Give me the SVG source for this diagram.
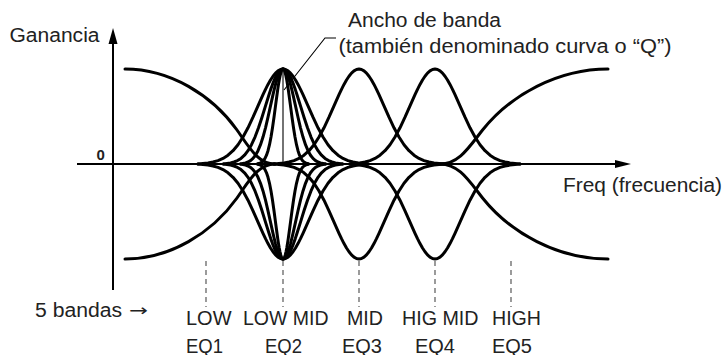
<svg xmlns="http://www.w3.org/2000/svg" xmlns:xlink="http://www.w3.org/1999/xlink" width="723" height="355" viewBox="0 0 723 355">
<style>
text{font-family:"Liberation Sans",Arial,Helvetica,sans-serif;fill:#222;font-size:19.5px}
.lbl{font-size:20.5px}
.curve{fill:none;stroke:#000;stroke-width:3;stroke-linejoin:round;stroke-linecap:round}
.axis{fill:none;stroke:#000;stroke-width:2}
.thin{fill:none;stroke:#000;stroke-width:1.1}
.dash{fill:none;stroke:#666;stroke-width:1.3;stroke-dasharray:5 4}
</style>
<defs>
<path id="bell" class="curve" vector-effect="non-scaling-stroke" d="M-85,0 L-80,-0.62 L-75,-1.13 L-70,-2 L-65,-3.41 L-60,-5.58 L-55,-8.78 L-50,-13.3 L-45,-19.3 L-40,-26.95 L-35,-36.2 L-30,-46.8 L-25,-58.1 L-20,-69.3 L-17.5,-74.65 L-15,-79.6 L-12.5,-84 L-10,-87.8 L-7.5,-90.88 L-5,-93.15 L-2.5,-94.53 L0,-95 L2.5,-94.53 L5,-93.15 L7.5,-90.88 L10,-87.8 L12.5,-84 L15,-79.6 L17.5,-74.65 L20,-69.3 L25,-58.1 L30,-46.8 L35,-36.2 L40,-26.95 L45,-19.3 L50,-13.3 L55,-8.78 L60,-5.58 L65,-3.41 L70,-2 L75,-1.13 L80,-0.62 L85,0"/>
<path id="shelf" class="curve" vector-effect="non-scaling-stroke" d="M0,0 C45,0 87,26 112,61 C124,78 133,95 150,95"/>
</defs>
<g id="axes">
<line class="axis" x1="113" y1="42" x2="113" y2="290"/>
<polygon points="113,28 108.5,44 117.5,44" fill="#000"/>
<line class="axis" x1="77" y1="164" x2="617" y2="164"/>
<polygon points="631,164 615,160 615,168" fill="#000"/>
</g>
<g id="eq1-low">
<use xlink:href="#shelf" transform="translate(125,69)"/>
<use xlink:href="#shelf" transform="translate(125,259) scale(1,-1)"/>
</g>
<g id="eq2-lowmid">
<use xlink:href="#bell" transform="translate(283,164) scale(1,1)"/>
<use xlink:href="#bell" transform="translate(283,164) scale(0.7,1)"/>
<use xlink:href="#bell" transform="translate(283,164) scale(0.5,1)"/>
<use xlink:href="#bell" transform="translate(283,164) scale(0.3,1)"/>
<use xlink:href="#bell" transform="translate(283,164) scale(1,-1)"/>
<use xlink:href="#bell" transform="translate(283,164) scale(0.7,-1)"/>
<use xlink:href="#bell" transform="translate(283,164) scale(0.5,-1)"/>
<use xlink:href="#bell" transform="translate(283,164) scale(0.3,-1)"/>
<line class="thin" x1="283" y1="69" x2="283" y2="164"/>
</g>
<g id="eq3-mid">
<use xlink:href="#bell" transform="translate(359,164)"/>
<use xlink:href="#bell" transform="translate(359,164) scale(1,-1)"/>
</g>
<g id="eq4-higmid">
<use xlink:href="#bell" transform="translate(435,164)"/>
<use xlink:href="#bell" transform="translate(435,164) scale(1,-1)"/>
</g>
<g id="eq5-high">
<use xlink:href="#shelf" transform="translate(608,69) scale(-1.12,1)"/>
<use xlink:href="#shelf" transform="translate(608,259) scale(-1.12,-1)"/>
</g>
<g id="connectors">
<polyline class="thin" points="284,90 325,38 336,38"/>
<line class="dash" x1="206" y1="261" x2="206" y2="307"/>
<line class="dash" x1="283" y1="261" x2="283" y2="307"/>
<line class="dash" x1="359" y1="261" x2="359" y2="307"/>
<line class="dash" x1="435" y1="261" x2="435" y2="307"/>
<line class="dash" x1="511" y1="261" x2="511" y2="307"/>
</g>
<g id="labels">
<text x="9.5" y="42" textLength="90" lengthAdjust="spacingAndGlyphs">Ganancia</text>
<text x="348" y="27" textLength="153" lengthAdjust="spacingAndGlyphs">Ancho de banda</text>
<text x="338.5" y="53" textLength="333" lengthAdjust="spacingAndGlyphs">(también denominado curva o “Q”)</text>
<text x="96.5" y="159.5" style="font-weight:bold;font-size:15px">0</text>
<text x="563" y="192" textLength="159" lengthAdjust="spacingAndGlyphs">Freq (frecuencia)</text>
<text x="35" y="317" style="font-size:20px" textLength="87" lengthAdjust="spacingAndGlyphs">5 bandas</text>
<text x="129" y="316" style="font-family:'DejaVu Sans',sans-serif;font-size:16px" textLength="19" lengthAdjust="spacingAndGlyphs">→</text>
<text class="lbl" x="186" y="324.5" textLength="45.5" lengthAdjust="spacingAndGlyphs">LOW</text>
<text class="lbl" x="243" y="324.5" textLength="85.5" lengthAdjust="spacingAndGlyphs">LOW MID</text>
<text class="lbl" x="347" y="324.5" textLength="36" lengthAdjust="spacingAndGlyphs">MID</text>
<text class="lbl" x="402" y="324.5" textLength="76.5" lengthAdjust="spacingAndGlyphs">HIG MID</text>
<text class="lbl" x="492" y="324.5" textLength="49" lengthAdjust="spacingAndGlyphs">HIGH</text>
<text class="lbl" x="186" y="352.5" textLength="37" lengthAdjust="spacingAndGlyphs">EQ1</text>
<text class="lbl" x="265" y="352.5" textLength="37" lengthAdjust="spacingAndGlyphs">EQ2</text>
<text class="lbl" x="342" y="352.5" textLength="40" lengthAdjust="spacingAndGlyphs">EQ3</text>
<text class="lbl" x="415" y="352.5" textLength="40" lengthAdjust="spacingAndGlyphs">EQ4</text>
<text class="lbl" x="492" y="352.5" textLength="40" lengthAdjust="spacingAndGlyphs">EQ5</text>
</g>
</svg>
